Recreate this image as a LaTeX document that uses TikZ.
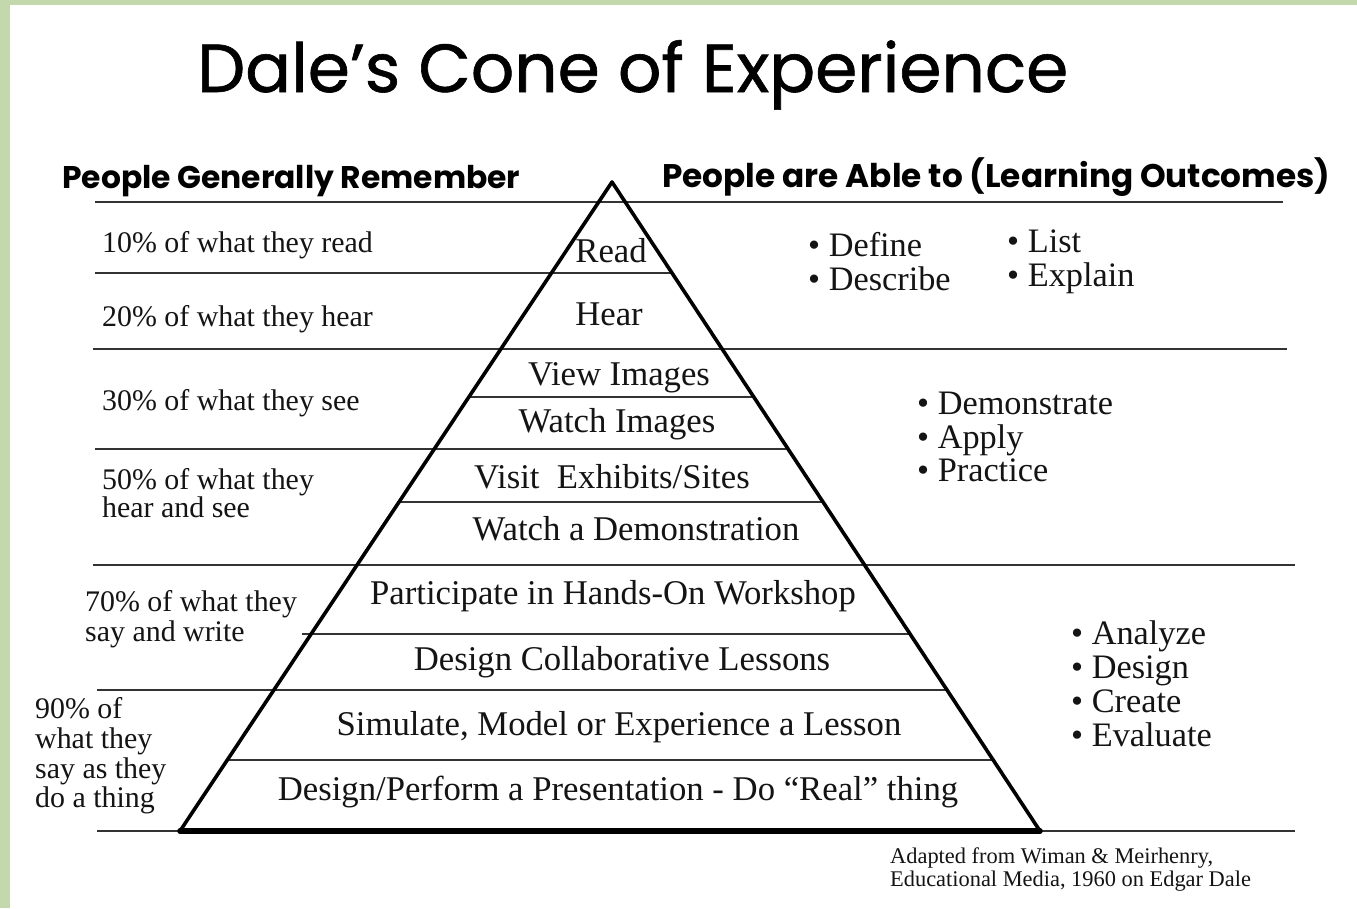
\documentclass[tikz,border=0pt]{standalone}
\usepackage{fontspec}
\setmainfont{Liberation Serif}
\newfontfamily\comic{Poppins}
\newfontfamily\comictitle[FakeBold=0.9]{Poppins}
\usetikzlibrary{calc}
\definecolor{frame}{RGB}{195,216,173}
\definecolor{ink}{RGB}{20,20,20}
\begin{document}
\begin{tikzpicture}[x=1pt,y=-1pt,
  rule/.style={line width=1.7pt, draw=black!80},
  coneside/.style={line width=3.6pt, draw=black, line cap=round, line join=round},
  conebase/.style={line width=5.5pt, draw=black, line cap=round},
  lefttxt/.style={anchor=base west, inner sep=0pt, text=ink, font=\fontsize{29.9}{30}\selectfont},
  conetxt/.style={anchor=base, inner sep=0pt, text=ink, font=\fontsize{34.7}{35}\selectfont},
  bullettxt/.style={anchor=base west, inner sep=0pt, text=ink, font=\fontsize{34.3}{34}\selectfont},
  headtxt/.style={anchor=base west, inner sep=0pt, text=black},
  notetxt/.style={anchor=base west, inner sep=0pt, text=ink, font=\fontsize{22.4}{23}\selectfont}]
\useasboundingbox (0,0) rectangle (1357,908);
\fill[white] (0,0) rectangle (1357,908);
\fill[frame] (0,0) rectangle (10,908);
\fill[frame] (0,0) rectangle (1357,5);

% cone geometry
\coordinate (apex) at (612,182);
\coordinate (bl) at (180,831);
\coordinate (br) at (1040,831);
\foreach \y in {273,397,449,502,634,690,760} {
  \coordinate (L\y) at ($(apex)!{(\y-182)/649}!(bl)$);
  \coordinate (R\y) at ($(apex)!{(\y-182)/649}!(br)$);
}
\coordinate (a1) at (95,202);   \coordinate (a2) at (1283,202);
\coordinate (b1) at (95,273);
\coordinate (c1) at (93,349);   \coordinate (c2) at (1287,349);
\coordinate (d1) at (95,449);
\coordinate (e1) at (93,565);   \coordinate (e2) at (1295,565);
\coordinate (f1) at (302,634);
\coordinate (g1) at (97,690);
\coordinate (h1) at (97,831);   \coordinate (h2) at (1295,831);

% horizontal rules
\draw[rule] (a1) -- (a2);
\draw[rule] (b1) -- (R273);
\draw[rule] (c1) -- (c2);
\draw[rule] (L397) -- (R397);
\draw[rule] (d1) -- (R449);
\draw[rule] (L502) -- (R502);
\draw[rule] (e1) -- (e2);
\draw[rule] (f1) -- (R634);
\draw[rule] (g1) -- (R690);
\draw[rule] (L760) -- (R760);
\draw[rule] (h1) -- (h2);

% cone
\draw[coneside] (bl) -- (apex) -- (br);
\draw[conebase] (bl) -- (br);

% title and headings
\node[headtxt] (title) at (197,92) {\resizebox{871pt}{!}{\comictitle Dale’s Cone of Experience}};
\node[headtxt] (hleft) at (62,188) {\resizebox{458pt}{!}{\comic\bfseries People Generally Remember}};
\node[headtxt] (hright) at (662,187) {\resizebox{668pt}{!}{\comic\bfseries People are Able to (Learning Outcomes)}};

% cone labels
\node[conetxt] (read) at (611,262) {Read};
\node[conetxt] (hear) at (609,325) {Hear};
\node[conetxt] (view) at (619,385) {View Images};
\node[conetxt] (watch) at (617,432) {Watch Images};
\node[conetxt] (visit) at (612,488) {Visit\ \ Exhibits/Sites};
\node[conetxt] (demo) at (636,540) {Watch a Demonstration};
\node[conetxt] (part) at (613,604) {Participate in Hands-On Workshop};
\node[conetxt] (collab) at (622,670) {Design Collaborative Lessons};
\node[conetxt] (sim) at (619,735) {Simulate, Model or Experience a Lesson};
\node[conetxt] (real) at (618,800) {Design/Perform a Presentation - Do “Real” thing};

% left labels
\node[lefttxt] (p10) at (102,252) {10\% of what they read};
\node[lefttxt] (p20) at (102,326) {20\% of what they hear};
\node[lefttxt] (p30) at (102,410) {30\% of what they see};
\node[lefttxt] (p50a) at (102,489) {50\% of what they};
\node[lefttxt] (p50b) at (102,517) {hear and see};
\node[lefttxt] (p70a) at (85,611) {70\% of what they};
\node[lefttxt] (p70b) at (85,641) {say and write};
\node[lefttxt] (p90a) at (35,718) {90\% of};
\node[lefttxt] (p90b) at (35,748) {what they};
\node[lefttxt] (p90c) at (35,778) {say as they};
\node[lefttxt] (p90d) at (35,807) {do a thing};

% right outcomes
\node[bullettxt] (o1) at (808,256) {• Define};
\node[bullettxt] (o2) at (808,290) {• Describe};
\node[bullettxt] (o3) at (1007,252) {• List};
\node[bullettxt] (o4) at (1007,286) {• Explain};
\node[bullettxt] (o5) at (917,414) {• Demonstrate};
\node[bullettxt] (o6) at (917,448) {• Apply};
\node[bullettxt] (o7) at (917,481) {• Practice};
\node[bullettxt] (o8) at (1071,644) {• Analyze};
\node[bullettxt] (o9) at (1071,678) {• Design};
\node[bullettxt] (o10) at (1071,712) {• Create};
\node[bullettxt] (o11) at (1071,746) {• Evaluate};

% source note
\node[notetxt] (n1) at (890,863) {Adapted from Wiman \& Meirhenry,};
\node[notetxt] (n2) at (890,886) {Educational Media, 1960 on Edgar Dale};
\end{tikzpicture}
\end{document}
